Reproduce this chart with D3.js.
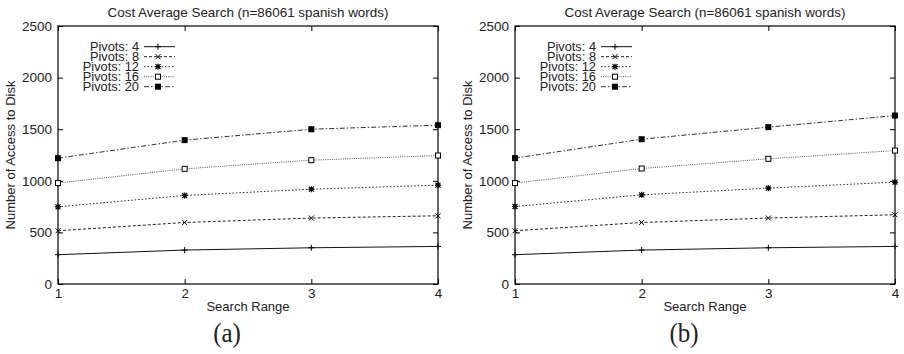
<!DOCTYPE html>
<html>
<head>
<meta charset="utf-8">
<script src="https://cdn.jsdelivr.net/npm/d3@7/dist/d3.min.js"></script>
<style>
body{margin:0;background:#fff;}
svg{display:block;}
text{font-family:"Liberation Sans",Arial,sans-serif;fill:#222;}
.cap{font-family:"Liberation Serif","Times New Roman",serif;}
</style>
</head>
<body>
<svg width="904" height="354"></svg>
<script>
//数据
var ranges=[1,2,3,4];
var yTicks=[0,500,1000,1500,2000,2500];
var seriesNames=["Pivots: 4","Pivots: 8","Pivots: 12","Pivots: 16","Pivots: 20"];
//(a)
var a_p4=[284,329,351,364];
var a_p8=[516,596,639,661];
var a_p12=[748,858,919,958];
var a_p16=[978,1116,1200,1245];
var a_p20=[1219,1394,1500,1539];
//(b)
var b_p4=[284,329,351,364];
var b_p8=[516,596,639,671];
var b_p12=[751,864,929,987];
var b_p16=[978,1119,1213,1293];
var b_p20=[1220,1403,1520,1632];

var title="Cost Average Search (n=86061 spanish words)";
var xTitle="Search Range";
var yTitle="Number of Access to Disk";

//线型
var dashes=[null,"3,2","1.5,2","1,1.2","5,2,1.5,2"];
var strokes=["#111","#222","#222","#555","#333"];
var markers=["plus","x","star","osq","fsq"];

var svg=d3.select("svg");

var drawMarker=function(g,type,cx,cy){
	var m=g.append("g").attr("transform","translate("+cx+","+cy+")");
	if(type=="plus"){
		m.append("path").attr("d","M-3,0H3M0,-3V3").attr("stroke","#000").attr("stroke-width",1);
	}else if(type=="x"){
		m.append("path").attr("d","M-2.5,-2.5L2.5,2.5M-2.5,2.5L2.5,-2.5").attr("stroke","#000").attr("stroke-width",1);
	}else if(type=="star"){
		m.append("path").attr("d","M-2.5,-2.5L2.5,2.5M-2.5,2.5L2.5,-2.5M-3,0H3M0,-3V3").attr("stroke","#000").attr("stroke-width",1.2);
	}else if(type=="osq"){
		m.append("rect").attr("x",-2.5).attr("y",-2.5).attr("width",5).attr("height",5)
			.attr("fill","#fff").attr("stroke","#000").attr("stroke-width",1);
	}else{
		m.append("rect").attr("x",-3).attr("y",-3).attr("width",6).attr("height",6).attr("fill","#000");
	}
};

var panel=function(offset,series,caption){
	var margin={left:58,right:14,top:26,bottom:70};
	var width=380,height=258;
	var root=svg.append("g").attr("transform","translate("+offset+",0)");
	var g=root.append("g").attr("transform","translate("+margin.left+","+margin.top+")");
	var x=d3.scaleLinear().domain([1,4]).range([0,width]);
	var y=d3.scaleLinear().domain([0,2500]).range([height,0]);

	//坐标轴 (刻度朝内)
	var ax=g.append("g").attr("transform","translate(0,"+height+")")
		.call(d3.axisBottom(x).tickValues(ranges).tickSize(-5).tickPadding(4).tickFormat(d3.format("d")));
	var ay=g.append("g")
		.call(d3.axisLeft(y).tickValues(yTicks).tickSize(-5).tickPadding(6).tickFormat(d3.format("d")));
	var at=g.append("g").call(d3.axisTop(x).tickValues(ranges).tickSize(-5).tickFormat(""));
	var ar=g.append("g").attr("transform","translate("+width+",0)")
		.call(d3.axisRight(y).tickValues(yTicks).tickSize(-5).tickFormat(""));
	[ax,ay,at,ar].forEach(function(a){
		a.select(".domain").remove();
		a.selectAll("line").attr("stroke","#000");
		a.selectAll("text").attr("font-size","13.5px").attr("fill","#222")
			.style("font-family","'Liberation Sans',Arial,sans-serif");
	});
	g.append("rect").attr("width",width).attr("height",height)
		.attr("fill","none").attr("stroke","#000").attr("stroke-width",1.2);

	//线条
	var line=d3.line().x(function(d,i){return x(ranges[i]);}).y(function(d){return y(d);});
	series.forEach(function(s,k){
		g.append("path").datum(s)
			.attr("fill","none")
			.attr("stroke",strokes[k])
			.attr("stroke-width",1)
			.attr("stroke-dasharray",dashes[k])
			.attr("d",line);
		s.forEach(function(v,i){drawMarker(g,markers[k],x(ranges[i]),y(v));});
	});

	//图例
	seriesNames.forEach(function(n,k){
		var ly=20.7+k*10;
		g.append("text").attr("x",81).attr("y",ly).attr("dy","0.35em")
			.attr("text-anchor","end").attr("font-size","12.8px").text(n);
		g.append("line").attr("x1",86).attr("x2",117).attr("y1",ly).attr("y2",ly)
			.attr("stroke",strokes[k]).attr("stroke-width",1)
			.attr("stroke-dasharray",dashes[k]);
		drawMarker(g,markers[k],100,ly);
	});

	//标题
	g.append("text").attr("x",width/2).attr("y",-9).attr("text-anchor","middle")
		.attr("font-size","13.4px").text(title);
	g.append("text").attr("x",width/2).attr("y",height+27).attr("text-anchor","middle")
		.attr("font-size","13px").text(xTitle);
	root.append("text").attr("transform","translate(15,"+(margin.top+height/2)+") rotate(-90)")
		.attr("text-anchor","middle").attr("font-size","13px").text(yTitle);
	root.append("text").attr("class","cap").attr("transform","translate(227,342) scale(1,1.12)")
		.attr("text-anchor","middle").attr("font-size","25px").text(caption);
};

panel(0,[a_p4,a_p8,a_p12,a_p16,a_p20],"(a)");
panel(457,[b_p4,b_p8,b_p12,b_p16,b_p20],"(b)");
</script>
</body>
</html>
